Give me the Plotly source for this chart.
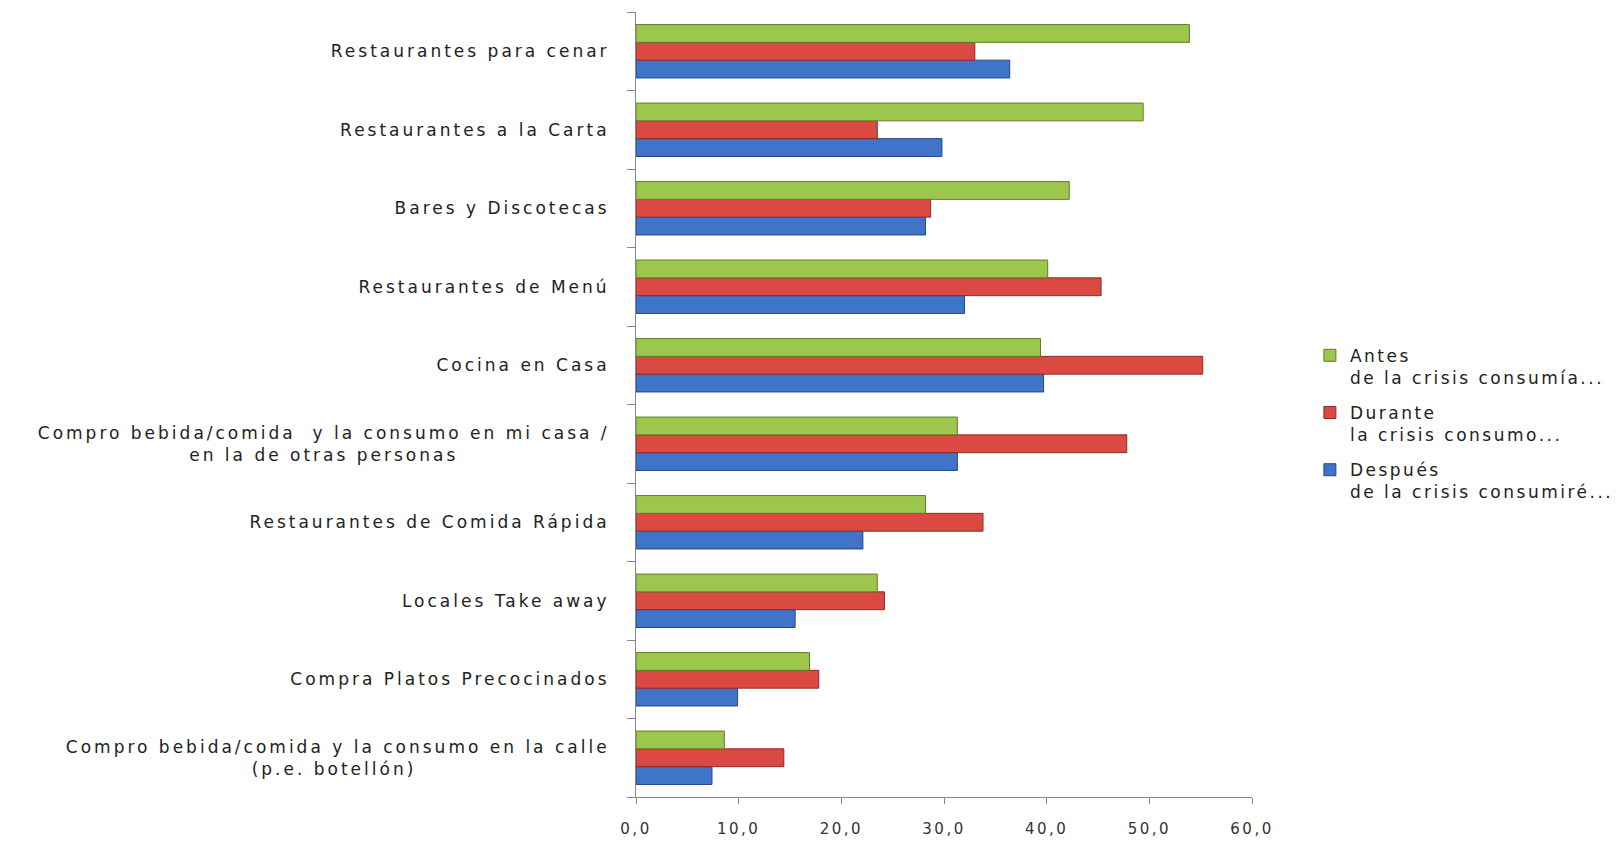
import plotly.graph_objects as go

NB = "\u00a0"


def sp(text, ls=3):
    return "<br>".join(f"<span style='letter-spacing:{ls}px'>{line}</span>" for line in text.split("<br>"))


# Categories, bottom to top
categories = [
    "Compro bebida/comida y la consumo en la calle<br>(p.e. botellón)" + NB * 23,
    "Compra Platos Precocinados",
    "Locales Take away",
    "Restaurantes de Comida Rápida",
    "Compro bebida/comida  y la consumo en mi casa /<br>en la de otras personas" + NB * 18,
    "Cocina en Casa",
    "Restaurantes de Menú",
    "Bares y Discotecas",
    "Restaurantes a la Carta",
    "Restaurantes para cenar",
]

antes = [8.6, 16.9, 23.5, 28.2, 31.3, 39.4, 40.1, 42.2, 49.4, 53.9]
durante = [14.4, 17.8, 24.2, 33.8, 47.8, 55.2, 45.3, 28.7, 23.5, 33.0]
despues = [7.4, 9.9, 15.5, 22.1, 31.3, 39.7, 32.0, 28.2, 29.8, 36.4]

series_names = [
    "Antes<br>de la crisis consumía...",
    "Durante<br>la crisis consumo...",
    "Después<br>de la crisis consumiré...",
]

x_ticks = [0, 10, 20, 30, 40, 50, 60]
x_ticktext = [sp(f"{v:.1f}".replace(".", ","), 2.5) for v in x_ticks]

fig = go.Figure()
fig.add_trace(go.Bar(y=categories, x=despues, orientation="h", name=sp(series_names[2], 2.5),
                     legendgroup="c", legendrank=3,
                     marker=dict(color="#3F74C9", line=dict(color="#23468A", width=1))))
fig.add_trace(go.Bar(y=categories, x=durante, orientation="h", name=sp(series_names[1], 2.5),
                     legendgroup="b", legendrank=2,
                     marker=dict(color="#DA4A43", line=dict(color="#8E2A25", width=1))))
fig.add_trace(go.Bar(y=categories, x=antes, orientation="h", name=sp(series_names[0], 2.5),
                     legendgroup="a", legendrank=1,
                     marker=dict(color="#9CC64C", line=dict(color="#5F7F2A", width=1))))

fig.update_layout(
    width=1623, height=843,
    barmode="group", bargap=0.32, bargroupgap=0,
    plot_bgcolor="white", paper_bgcolor="white",
    separators=",.",
    margin=dict(l=636, r=371, t=12, b=46, autoexpand=False),
    font=dict(family="DejaVu Sans", size=17, color="#222"),
    showlegend=True,
    legend=dict(traceorder="grouped", x=1.094, xanchor="left", y=0.585, yanchor="top",
                valign="top", font=dict(size=17, color="#222"), tracegroupgap=10,
                itemwidth=30),
)
fig.update_xaxes(range=[0, 60], tickvals=x_ticks, ticktext=x_ticktext,
                 showline=True, linecolor="#888", linewidth=1,
                 ticks="outside", ticklen=6, tickcolor="#888",
                 showgrid=False, zeroline=False,
                 tickfont=dict(size=15, color="#333"), ticklabelstandoff=12)
fig.update_yaxes(type="category", categoryorder="array", categoryarray=categories,
                 tickvals=categories, ticktext=[sp(c) for c in categories],
                 showline=True, linecolor="#888", linewidth=1,
                 ticks="outside", ticklen=8, tickcolor="#888", tickson="boundaries",
                 showgrid=False, ticklabelstandoff=22,
                 tickfont=dict(size=17, color="#222"))

fig.write_html("out.html")
